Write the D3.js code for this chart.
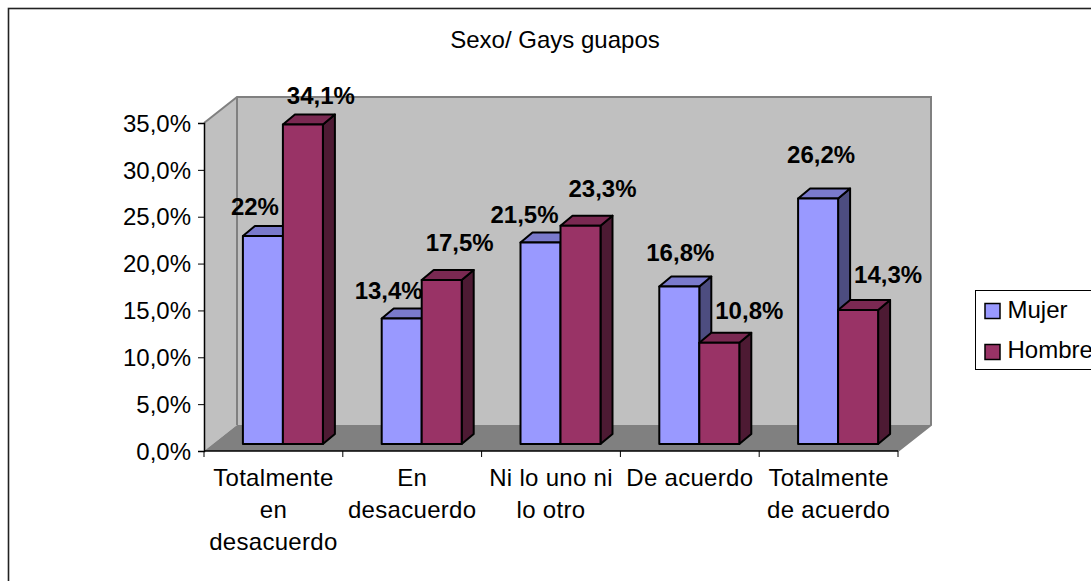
<!DOCTYPE html>
<html><head><meta charset="utf-8">
<style>html,body{margin:0;padding:0;background:#fff;overflow:hidden}svg{display:block}text{font-family:"Liberation Sans",Arial,sans-serif;fill:#000}</style>
<script src="https://cdn.jsdelivr.net/npm/d3@7/dist/d3.min.js"></script></head><body>
<script>
const categories=[["Totalmente","en","desacuerdo"],["En","desacuerdo"],["Ni lo uno ni","lo otro"],["De acuerdo"],["Totalmente","de acuerdo"]];
const seriesNames=["Mujer","Hombre"];
const mujer=[22.2,13.4,21.5,16.8,26.2];
const hombre=[34.1,17.5,23.3,10.8,14.3];
const mujerLabels=["22%","13,4%","21,5%","16,8%","26,2%"];
const hombreLabels=["34,1%","17,5%","23,3%","10,8%","14,3%"];
const yTicks=[0,5,10,15,20,25,30,35];
const colors={front:["#9999ff","#993366"],top:["#7a7acc","#7a2952"],side:["#4d4d80","#4d1a33"]};
const W=1091,H=581;
const svg=d3.select("body").append("svg").attr("width",W).attr("height",H);
const y=d3.scaleLinear().domain([0,35]).range([451,123]);
const x=d3.scaleBand().domain(d3.range(5)).range([204,898]);
const D={x:33,y:-26}, d={x:12,y:-10}, off={x:9.5,y:-7};
const poly=(pts,fill,stroke,sw)=>svg.append("polygon").attr("points",pts.map(p=>p.join(",")).join(" ")).attr("fill",fill).attr("stroke",stroke||"none").attr("stroke-width",sw||0).attr("stroke-linejoin","round");
svg.append("rect").attr("x",8.5).attr("y",8.5).attr("width",1200).attr("height",700).attr("fill","#fff").attr("stroke","#222").attr("stroke-width",1.6);
const y0=y(0),yT=y(35),xL=x.range()[0],xR=x.range()[1];
poly([[xL+D.x,yT+D.y],[xR+D.x,yT+D.y],[xR+D.x,y0+D.y],[xL+D.x,y0+D.y]],"#c0c0c0");
poly([[xL,yT],[xL+D.x,yT+D.y],[xL+D.x,y0+D.y],[xL,y0]],"#c0c0c0");
poly([[xL,y0],[xL+D.x,y0+D.y],[xR+D.x,y0+D.y],[xR,y0]],"#808080");
svg.append("path").attr("d",`M${xL},${yT}L${xL+D.x},${yT+D.y}H${xR+D.x}V${y0+D.y}L${xR},${y0}M${xL+D.x},${yT+D.y}V${y0+D.y}`).attr("fill","none").attr("stroke","#808080").attr("stroke-width",2);
const axL=svg.append("g").attr("transform",`translate(${xL},0)`).call(d3.axisLeft(y).tickValues(yTicks).tickSize(6).tickPadding(7).tickFormat(v=>d3.format(".1f")(v).replace(".",",")+"%"));
axL.selectAll("text").attr("font-size",24).attr("dy","0.34em").style("font-family",'"Liberation Sans",Arial,sans-serif');
axL.select(".domain").attr("stroke","#000").attr("stroke-width",1.5);
const axB=svg.append("g").attr("transform",`translate(0,${y0})`);
axB.append("line").attr("x1",xL).attr("x2",xR).attr("stroke","#000").attr("stroke-width",1.5);
d3.range(6).forEach(i=>{const tx=i<5?x(i):xR;axB.append("line").attr("x1",tx).attr("x2",tx).attr("y1",0).attr("y2",6).attr("stroke","#000")});
const barW=40;
function bar(vals,s,i){
  const bx=x(i)+off.x+x.bandwidth()/2-barW+s*barW, by0=y0+off.y, t=by0-(y0-y(vals[i]));
  const st="#000";
  poly([[bx+barW,t],[bx+barW+d.x,t+d.y],[bx+barW+d.x,by0+d.y],[bx+barW,by0]],colors.side[s],st,2);
  poly([[bx,t],[bx+d.x,t+d.y],[bx+barW+d.x,t+d.y],[bx+barW,t]],colors.top[s],st,2);
  poly([[bx,t],[bx+barW,t],[bx+barW,by0],[bx,by0]],colors.front[s],st,2);
}
d3.range(5).forEach(i=>{bar(mujer,0,i);bar(hombre,1,i);});
const lab=(t,xx,yy)=>svg.append("text").attr("x",xx).attr("y",yy).attr("text-anchor","middle").attr("font-size",24).attr("font-weight","bold").text(t);
const shiftM=[[-28,-21],[-33,-19],[-36,-19.5],[-19,-25.6],[-17,-35.5]];
const shiftH=[[38,-20],[38,-29],[42,-28.6],[50,-24],[50,-27]];
d3.range(5).forEach(i=>{
  const cx=x(i)+x.bandwidth()/2+off.x, by0=y0+off.y;
  lab(mujerLabels[i],cx+shiftM[i][0],by0-(y0-y(mujer[i]))+shiftM[i][1]);
  lab(hombreLabels[i],cx+shiftH[i][0],by0-(y0-y(hombre[i]))+shiftH[i][1]);
});
categories.forEach((lines,i)=>{
  lines.forEach((l,j)=>svg.append("text").attr("x",x(i)+x.bandwidth()/2).attr("y",486+j*32).attr("text-anchor","middle").attr("font-size",24).attr("letter-spacing",0.3).text(l));
});
svg.append("text").attr("x",555).attr("y",48).attr("text-anchor","middle").attr("font-size",24).text("Sexo/ Gays guapos");
svg.append("rect").attr("x",975.5).attr("y",290.5).attr("width",130).attr("height",79).attr("fill","#fff").attr("stroke","#000");
seriesNames.forEach((n,i)=>{
  const ly=303.5+i*41;
  svg.append("rect").attr("x",985).attr("y",ly).attr("width",15).attr("height",15).attr("fill",colors.front[i]).attr("stroke","#000").attr("stroke-width",1.5);
  svg.append("text").attr("x",1007.5).attr("y",318+i*40).attr("font-size",24).text(n);
});
</script></body></html>
